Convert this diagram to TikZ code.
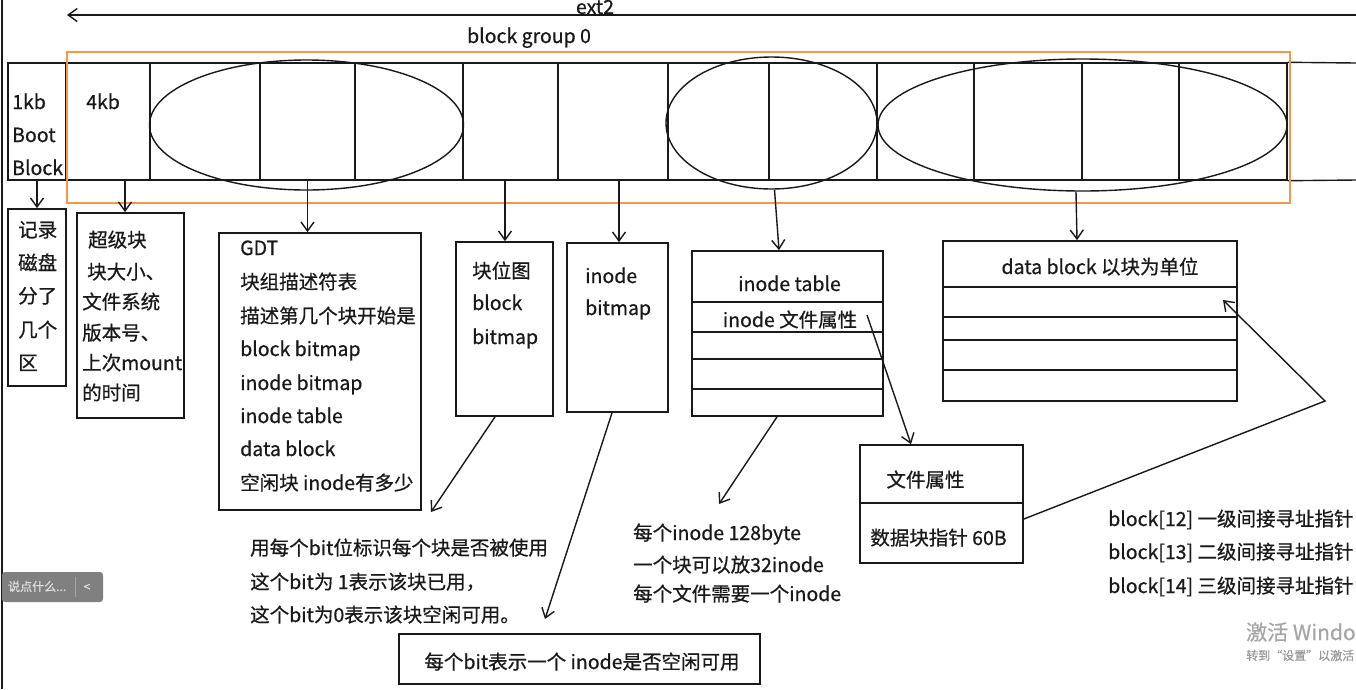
\documentclass[tikz,border=0pt]{standalone}
\usepackage{fontspec}
\setmainfont{Noto Sans CJK SC}[FakeBold=0.6,AutoFakeBold=0.6]
\usetikzlibrary{arrows.meta,shapes.geometric}
\definecolor{grporange}{RGB}{247,150,70}
\definecolor{ink}{RGB}{25,25,25}
\begin{document}
\begin{tikzpicture}[x=1pt,y=-1pt,
  box/.style={draw=ink,line width=1.7pt,inner sep=0pt,rectangle},
  cell/.style={draw=ink,line width=1.4pt,inner sep=0pt,minimum height=117pt},
  oval/.style={draw=ink,line width=1.4pt,ellipse,inner sep=0pt},
  arr/.style={draw=ink,line width=1.4pt,-{Straight Barb[length=9pt,width=13pt,line width=1.4pt]}},
  conn/.style={draw=ink,line width=1.4pt},
  txt/.style={inner sep=0pt,anchor=base west,text=ink,font=\fontsize{19.5}{23}\selectfont\bfseries},
  ctxt/.style={inner sep=0pt,anchor=base,text=ink,font=\fontsize{19.5}{23}\selectfont\bfseries}]
\useasboundingbox (0,0) rectangle (1356,689);
\fill[white] (0,0) rectangle (1356,689);
% left window edge
\draw[line width=1.8pt,ink] (2,0) -- (2,689);

% ext2 arrow and label
\node[ctxt] (ext2lbl) at (595,14) {ext2};
\coordinate (extR) at (1356,15);
\coordinate (extL) at (67,15);
\draw[arr] (extR) -- (extL);
\node[ctxt] (grplbl) at (529,43) {block group 0};

% strip cells
\foreach \n/\a/\b in {boot/8/66, sb/66/150, c1/150/260, c2/260/355, c3/355/463, c4/463/558, c5/558/668, c6/668/769, c7/769/877, c8/877/974, c9/974/1082, c10/1082/1179, c11/1179/1287}
  \node[cell, minimum width={(\b-\a)*1pt}] (\n) at ({(\a+\b)/2},121.5) {};
\coordinate (stripTR) at (1356,63);
\coordinate (stripBR) at (1356,180);
\draw[conn] (c11.north east) -- (stripTR);
\draw[conn] (c11.south east) -- (stripBR);

% ellipses
\node[oval, minimum width=314pt, minimum height=130pt] (e1) at (306.5,125) {};
\node[oval, minimum width=211pt, minimum height=132pt] (e2) at (771.5,123) {};
\node[oval, minimum width=409pt, minimum height=132pt] (e3) at (1082.5,125) {};

% orange block group frame
\node[draw=grporange, line width=2pt, inner sep=0pt, minimum width=1223pt, minimum height=151pt] (grp) at (678.5,127.5) {};

% texts in strip
\node[txt] (bt1) at (12,109) {1kb};
\node[txt] (bt2) at (12,142) {Boot};
\node[txt] (bt3) at (12,175) {Block};
\node[txt] (sbt) at (86,109) {4kb};

% boxes below
\node[box, minimum width=58pt, minimum height=177pt] (bootinfo) at (37,297.5) {};
\node[box, minimum width=107pt, minimum height=205pt] (sbinfo) at (130.5,315.5) {};
\node[box, minimum width=202pt, minimum height=277pt] (gdtinfo) at (320,371.5) {};
\node[box, minimum width=97pt, minimum height=174pt] (bbinfo) at (504.5,329) {};
\node[box, minimum width=101pt, minimum height=169pt] (ibinfo) at (617.5,327.5) {};
\node[box, minimum width=191pt, minimum height=165pt] (itab) at (787.5,333.5) {};
\node[box, minimum width=294pt, minimum height=160pt] (dbinfo) at (1090,321) {};
\node[box, minimum width=163pt, minimum height=118pt] (fattr) at (941.5,504) {};
\node[box, minimum width=361pt, minimum height=50pt] (ibox) at (579.5,659) {};

\foreach \yy in {302,332,359,389} \draw[conn] (itab.west |- 0,\yy) -- (itab.east |- 0,\yy);
\foreach \yy in {287,317,340,370} \draw[conn] (dbinfo.west |- 0,\yy) -- (dbinfo.east |- 0,\yy);
\draw[conn] (fattr.west |- 0,503) -- (fattr.east |- 0,503);

% box texts
\foreach \t/\yy [count=\i] in {记录/237, 磁盘/270, 分了/303, 几个/337, 区/370}
  \node[txt] (bi\i) at (18,\yy) {\t};
\node[txt] (sb1) at (88,247) {超级块};
\node[txt] (sb2) at (87,279) {块大小、};
\node[txt] (sb3) at (82,309) {文件系统};
\node[txt] (sb4) at (82,340) {版本号、};
\node[txt] (sb5) at (82,370) {上次mount};
\node[txt] (sb6) at (82,400) {的时间};
\foreach \t/\yy [count=\i] in {GDT/255, 块组描述符表/289, 描述第几个块开始是/323, block bitmap/356, inode bitmap/390, inode table/423, data block/456, 空闲块 inode有多少/490}
  \node[txt] (gd\i) at (240,\yy) {\t};
\node[txt] (bb1) at (472,278) {块位图};
\node[txt] (bb2) at (472,310) {block};
\node[txt] (bb3) at (472,344) {bitmap};
\node[txt] (ib1) at (585,283) {inode};
\node[txt] (ib2) at (585,315) {bitmap};
\node[ctxt] (it1) at (789.5,291) {inode table};
\node[ctxt] (it2) at (790,327) {inode 文件属性};
\node[ctxt] (db1) at (1100,274) {data block 以块为单位};
\node[ctxt] (fa1) at (925.5,487) {文件属性};
\node[ctxt] (fa2) at (938.5,545) {数据块指针 60B};
\node[txt] (bl1) at (250,555) {用每个bit位标识每个块是否被使用};
\node[txt] (bl2) at (250,589) {这个bit为 1表示该块已用，};
\node[txt] (bl3) at (250,622) {这个bit为0表示该块空闲可用。};
\node[ctxt] (ibt) at (582,669) {每个bit表示一个 inode是否空闲可用};
\node[txt] (in1) at (633,540) {每个inode 128byte};
\node[txt] (in2) at (633,572) {一个块可以放32inode};
\node[txt] (in3) at (633,601) {每个文件需要一个inode};
\node[txt] (bk1) at (1108,526) {block[12] 一级间接寻址指针};
\node[txt] (bk2) at (1108,559) {block[13] 二级间接寻址指针};
\node[txt] (bk3) at (1108,593) {block[14] 三级间接寻址指针};

% arrows from strip
\draw[arr] (boot.south) -- (bootinfo.north);
\coordinate (sbo) at ([xshift=17pt]sb.south);
\draw[arr] (sbo) -- (sbo |- sbinfo.north);
\coordinate (gdto) at (c2.south);
\draw[arr] (gdto) -- (gdto |- gdtinfo.north);
\coordinate (bbo) at ([xshift=-5.5pt]c4.south);
\draw[arr] (bbo) -- (bbo |- bbinfo.north);
\coordinate (ibo) at ([xshift=6pt]c5.south);
\draw[arr] (ibo) -- (ibo |- ibinfo.north);
\draw[arr] ([xshift=3pt]e2.south) -- ([xshift=-8.5pt]itab.north);
\draw[arr] ([xshift=-6.5pt]e3.south) -- ([xshift=-13pt]dbinfo.north);

% inode attribute -> file attribute box
\coordinate (fs) at (867,315);
\draw[arr] (fs) -- ([xshift=-30.5pt]fattr.north);
% data pointer -> data block
\coordinate (pbend) at (1325,401);
\coordinate (ptip) at (1223,300);
\draw[arr] ([yshift=-15pt]fattr.east) -- (pbend) -- (ptip);

% lower arrows
\coordinate (bbend) at (431,512);
\draw[arr] ([xshift=-9.5pt]bbinfo.south) -- (bbend);
\coordinate (ibend) at (545,619);
\draw[arr] ([xshift=-5.5pt]ibinfo.south) -- (ibend);
\coordinate (itend) at (719,504);
\draw[arr] ([xshift=-10.5pt]itab.south) -- (itend);

% chat widget
\node[fill=black!50, rounded corners=3pt, inner sep=0pt, minimum width=101pt, minimum height=30pt] (chat) at (52.5,587) {};
\node[inner sep=0pt, anchor=base west, text=black!12, font=\fontsize{12}{14}\selectfont] (chattxt) at (8,591) {说点什么...};
\draw[black!35, line width=0.8pt] (75,577) -- (75,597);
\node[inner sep=0pt, anchor=base, text=black!12, font=\fontsize{12}{14}\selectfont] (chatlt) at (87,591) {\textless};

% watermark
\node[inner sep=0pt, anchor=base west, text=black!35, font=\fontsize{21}{25}\selectfont] (wm1) at (1246,640) {激活 Windo};
\node[inner sep=0pt, anchor=base west, text=black!40, font=\fontsize{12}{14}\selectfont] (wm2) at (1246,660) {转到“设置”以激活};
\end{tikzpicture}
\end{document}
